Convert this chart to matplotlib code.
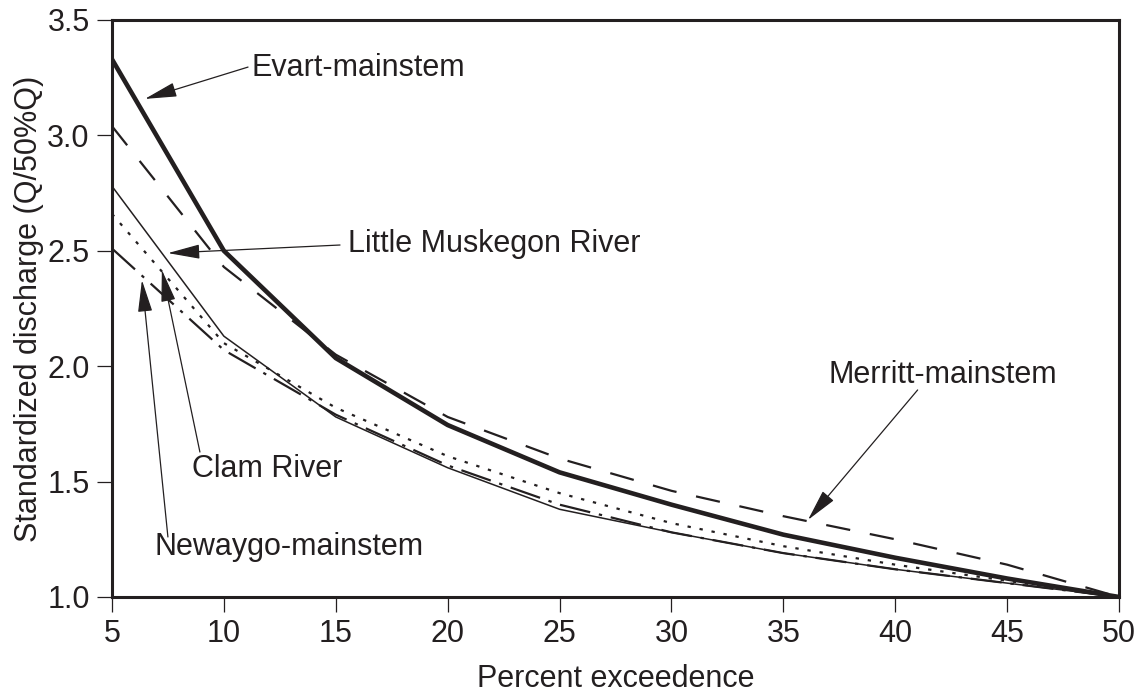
import matplotlib.pyplot as plt

plt.rcParams['font.family'] = ['Liberation Sans', 'DejaVu Sans']

# percent exceedence and discharge ratios (Q / 50% Q)
pct = [5, 10, 15, 20, 25, 30, 35, 40, 45, 50]
evart = [3.33, 2.50, 2.035, 1.745, 1.54, 1.40, 1.27, 1.17, 1.08, 1.0]
merritt = [3.04, 2.43, 2.05, 1.78, 1.60, 1.46, 1.35, 1.25, 1.14, 1.0]
little_musk = [2.78, 2.13, 1.78, 1.56, 1.38, 1.28, 1.19, 1.12, 1.06, 1.0]
clam = [2.66, 2.10, 1.82, 1.61, 1.45, 1.32, 1.22, 1.14, 1.07, 1.0]
newaygo = [2.51, 2.07, 1.79, 1.57, 1.40, 1.28, 1.19, 1.12, 1.06, 1.0]

ink = '#231f20'
fs = 22

fig = plt.figure(figsize=(11.46, 6.94), dpi=100)
ax = fig.add_axes([0.0977, 0.1398, 0.8788, 0.8314])

ax.plot(pct, evart, color=ink, lw=3.3, solid_joinstyle='miter')
ax.plot(pct, merritt, color=ink, lw=1.6, dashes=(11, 9))
ax.plot(pct, little_musk, color=ink, lw=1.1)
ax.plot(pct, clam, color=ink, lw=1.6, dashes=(1.5, 4))
ax.plot(pct, newaygo, color=ink, lw=1.6, dashes=(14, 4, 1.5, 4))

ax.set_xlim(5, 50)
ax.set_ylim(1.0, 3.5)
ax.set_xticks(range(5, 51, 5))
ax.set_yticks([1.0, 1.5, 2.0, 2.5, 3.0, 3.5])
ax.set_yticklabels(['1.0', '1.5', '2.0', '2.5', '3.0', '3.5'])
ax.tick_params(direction='out', length=11, width=0.9, labelsize=fs, colors=ink, pad=5)
for s in ax.spines.values():
    s.set_linewidth(2.2)
    s.set_color(ink)

ax.set_xlabel('Percent exceedence', fontsize=fs, color=ink, labelpad=11)
ax.set_ylabel('Standardized discharge (Q/50%Q)', fontsize=fs, color=ink, labelpad=2)

arrow = dict(arrowstyle='-|>,head_length=2.0,head_width=0.45', color=ink, lw=0.9,
             shrinkA=0, shrinkB=0, mutation_scale=10)
ax.annotate('', xy=(6.47, 3.158), xytext=(11.08, 3.296), arrowprops=arrow)
ax.text(11.25, 3.29, 'Evart-mainstem', fontsize=fs, color=ink, va='center', ha='left')
ax.annotate('', xy=(7.5, 2.49), xytext=(15.19, 2.525), arrowprops=arrow)
ax.text(15.55, 2.53, 'Little Muskegon River', fontsize=fs, color=ink, va='center', ha='left')
ax.annotate('', xy=(36.1, 1.334), xytext=(41.0, 1.897), arrowprops=arrow)
ax.text(37.0, 1.96, 'Merritt-mainstem', fontsize=fs, color=ink, va='center', ha='left')
ax.annotate('', xy=(7.23, 2.417), xytext=(8.93, 1.628), arrowprops=arrow)
ax.text(8.57, 1.555, 'Clam River', fontsize=fs, color=ink, va='center', ha='left')
ax.annotate('', xy=(6.34, 2.373), xytext=(7.5, 1.26), arrowprops=arrow)
ax.text(6.92, 1.215, 'Newaygo-mainstem', fontsize=fs, color=ink, va='center', ha='left')

fig.savefig('out.png', dpi=100)
